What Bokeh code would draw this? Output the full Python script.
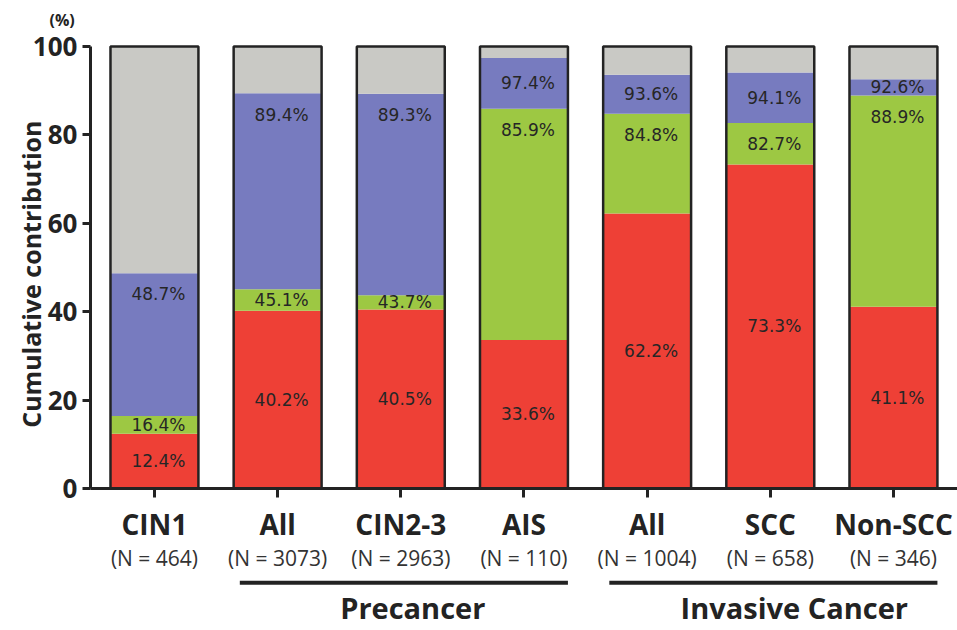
import math

from bokeh.plotting import figure
from bokeh.models import LinearAxis, FixedTicker, Label
from bokeh.embed import file_html
from bokeh.resources import INLINE
from bokeh.core.properties import value

# ---- data -------------------------------------------------------------
categories = ["CIN1", "All", "CIN2-3", "AIS", "All", "SCC", "Non-SCC"]
sample_sizes = ["(N = 464)", "(N = 3073)", "(N = 2963)", "(N = 110)",
                "(N = 1004)", "(N = 658)", "(N = 346)"]
# cumulative contribution (%) reached at the top of each stacked segment
cum_red = [12.4, 40.2, 40.5, 33.6, 62.2, 73.3, 41.1]
cum_green = [16.4, 45.1, 43.7, 85.9, 84.8, 82.7, 88.9]
cum_blue = [48.7, 89.4, 89.3, 97.4, 93.6, 94.1, 92.6]
cum_gray = [100.0] * 7
y_ticks = [0, 20, 40, 60, 80, 100]
# (label, first bar index, last bar index)
groups = [("Precancer", 1, 3), ("Invasive Cancer", 4, 6)]

# ---- styling ----------------------------------------------------------
RED, GREEN, BLUE, GRAY = "#EE4036", "#9DC843", "#777BBF", "#C9C9C5"
INK = "#232323"
HEAD_FONT = "Open Sans"
VALUE_FONT = "DejaVu Sans"
BAR_W = 0.714
X0 = -0.52          # where the value axis sits

xs = list(range(len(categories)))

p = figure(width=957, height=630,
           x_range=(-1.25, 6.52), y_range=(-32.13, 110.4),
           x_axis_type=None, y_axis_type=None,
           toolbar_location=None, output_backend="svg",
           min_border=0, outline_line_color=None,
           background_fill_color="white", border_fill_color="white")
p.xgrid.visible = False
p.ygrid.visible = False

# stacked segments
bottoms = [[0.0] * 7, cum_red, cum_green, cum_blue]
tops = [cum_red, cum_green, cum_blue, cum_gray]
for b, t, c in zip(bottoms, tops, [RED, GREEN, BLUE, GRAY]):
    p.vbar(x=xs, bottom=b, top=t, width=BAR_W, fill_color=c, line_color=None)
# outline around each full column
p.vbar(x=xs, bottom=0, top=cum_gray, width=BAR_W, fill_color=None,
       line_color=INK, line_width=2.5)

# value labels: red centred in segment, others just under the segment top
lab_x, lab_y, lab_t = [], [], []
for i in xs:
    segs = [(0.0, cum_red[i]), (cum_red[i], cum_green[i]), (cum_green[i], cum_blue[i])]
    for k, (lo, hi) in enumerate(segs):
        mid = (lo + hi) / 2
        if k == 0 or hi - lo < 12:
            y = mid
        else:
            y = hi - 4.8
        lab_x.append(i)
        lab_y.append(y)
        lab_t.append(f"{hi:.1f}%")
p.text(x=lab_x, y=lab_y, text=lab_t, text_font=value(VALUE_FONT),
       text_font_size="17px", text_align="center", text_baseline="middle",
       x_offset=4, text_color="#262626")

# value axis
yaxis = LinearAxis(fixed_location=X0, bounds=(0, 100),
                   ticker=FixedTicker(ticks=y_ticks, minor_ticks=[]))
yaxis.axis_line_width = 3
yaxis.axis_line_color = INK
yaxis.major_tick_line_width = 3
yaxis.major_tick_line_color = INK
yaxis.major_tick_out = 8
yaxis.major_tick_in = 0
yaxis.minor_tick_line_color = None
yaxis.major_label_standoff = 5
yaxis.major_label_text_font = HEAD_FONT
yaxis.major_label_text_font_style = "bold"
yaxis.major_label_text_font_size = "26px"
yaxis.major_label_text_color = INK
p.add_layout(yaxis, "left")

# category axis
xaxis = LinearAxis(fixed_location=0, bounds=(X0, 6.52),
                   ticker=FixedTicker(ticks=xs, minor_ticks=[]))
xaxis.major_label_overrides = {i: c for i, c in enumerate(categories)}
xaxis.axis_line_width = 3
xaxis.axis_line_color = INK
xaxis.major_tick_line_width = 3
xaxis.major_tick_line_color = INK
xaxis.major_tick_out = 9
xaxis.major_tick_in = 0
xaxis.minor_tick_line_color = None
xaxis.major_label_standoff = 8
xaxis.major_label_text_font = HEAD_FONT
xaxis.major_label_text_font_style = "bold"
xaxis.major_label_text_font_size = "28px"
xaxis.major_label_text_color = INK
p.add_layout(xaxis, "below")

# sample size row
naxis = LinearAxis(fixed_location=0, ticker=FixedTicker(ticks=xs, minor_ticks=[]))
naxis.major_label_overrides = {i: s for i, s in enumerate(sample_sizes)}
naxis.axis_line_color = None
naxis.major_tick_line_color = None
naxis.minor_tick_line_color = None
naxis.major_label_standoff = 50
naxis.major_label_text_font = HEAD_FONT
naxis.major_label_text_font_size = "21px"
naxis.major_label_text_color = "#333333"
p.add_layout(naxis, "below")

# group brackets and captions
g_lo = [first - BAR_W / 2 + 0.05 for _, first, _ in groups]
g_hi = [last + BAR_W / 2 for _, _, last in groups]
p.segment(x0=g_lo, x1=g_hi, y0=-21.3, y1=-21.3, line_color=INK, line_width=4)
for (name, first, last), dx in zip(groups, [12, 24]):
    p.add_layout(Label(x=(first + last) / 2, y=-27.0, x_offset=dx, text=name,
                       text_font=HEAD_FONT, text_font_style="bold",
                       text_font_size="29px", text_color=INK,
                       text_align="center", text_baseline="middle"))

# axis title and unit
p.add_layout(Label(x=-1.0, y=48.5, text="Cumulative contribution", angle=math.pi / 2,
                   text_font=HEAD_FONT, text_font_style="bold",
                   text_font_size="25px", text_color=INK,
                   text_align="center", text_baseline="middle"))
p.add_layout(Label(x=-0.75, y=106.0, text="(%)",
                   text_font=HEAD_FONT, text_font_style="bold",
                   text_font_size="16px", text_color=INK,
                   text_align="center", text_baseline="middle"))

open("out.html", "w").write(file_html(p, INLINE))
